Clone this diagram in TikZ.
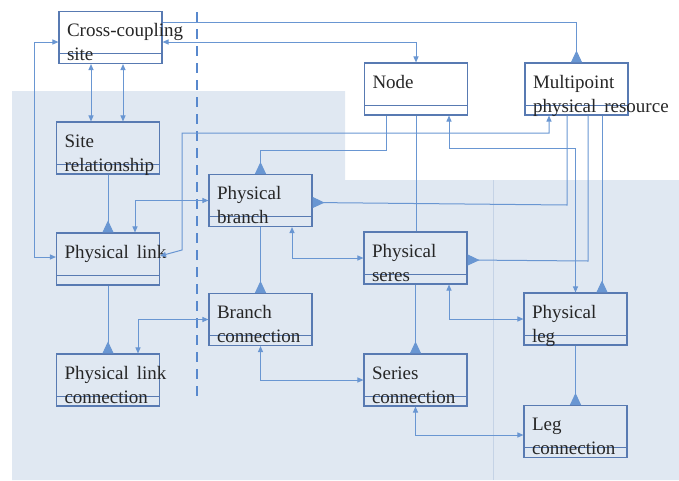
\documentclass[tikz,border=0pt]{standalone}
\usepackage{fontspec}
\setmainfont{Liberation Serif}
\usetikzlibrary{arrows.meta}

\definecolor{bgblue}{RGB}{224,232,242}
\definecolor{gridblue}{RGB}{197,211,230}
\definecolor{boxblue}{RGB}{88,122,178}
\definecolor{linkblue}{RGB}{105,150,210}
\definecolor{dashblue}{RGB}{88,136,205}
\hyphenpenalty=10000
\exhyphenpenalty=10000
\newcommand{\widesp}{\hspace{8pt}}

\begin{document}
\begin{tikzpicture}[x=1pt, y=-1pt,
    assoctip/.tip = {Triangle[length=6pt,width=5pt]},
    gentip/.tip = {Triangle[length=12pt,width=11pt,reversed]},
    cls/.style = {rectangle, draw=boxblue, line width=1.1pt,
                  text width=87pt, inner xsep=8pt, inner ysep=0pt,
                  text height=25pt, text depth=27pt, align=left,
                  font=\fontsize{19}{24}\selectfont, text=black!85,
                  path picture={\draw[boxblue, line width=0.9pt]
                    ([yshift=10pt]path picture bounding box.south west) --
                    ([yshift=10pt]path picture bounding box.south east);}},
    link/.style = {draw=linkblue, line width=1pt},
    assoc/.style = {link, assoctip-assoctip},
    gen/.style = {link, -gentip}]
  \useasboundingbox (0,0) rectangle (679,480);
  \fill[bgblue] (12,91) -- (345,91) -- (345,180) -- (679,180) -- (679,480) -- (12,480) -- cycle;
  \draw[gridblue, line width=0.8pt] (493,180) -- (493,480);

  \node (site)    [cls] at (110.5,37.5)  {\mbox{Cross-coupling}\\site};
  \node (siterel) [cls] at (108,148)     {Site\\relationship};
  \node (plink)   [cls] at (108,259)     {\mbox{Physical\widesp link}};
  \node (plconn)  [cls] at (108,380)     {\mbox{Physical\widesp link}\\connection};
  \node (pbranch) [cls] at (260.5,200.5) {Physical\\branch};
  \node (bconn)   [cls] at (260.5,319.5) {Branch\\connection};
  \node (node)    [cls] at (416,89)      {Node};
  \node (mpr)     [cls] at (576.5,89)    {Multipoint\\\mbox{physical\widesp resource}};
  \node (pseres)  [cls] at (415.5,258)   {Physical\\seres};
  \node (sconn)   [cls] at (415.5,380)   {Series\\connection};
  \node (pleg)    [cls] at (575.5,319)   {Physical\\leg};
  \node (lconn)   [cls] at (575.5,431.5) {Leg\\connection};

  \draw[dashblue, line width=2.6pt, dash pattern=on 10pt off 7pt] (197,12) -- (197,397);

  \draw[gen] ([yshift=15.5pt]site.east) -| (mpr.north);
  \draw[assoc] ([yshift=-4.5pt]site.east) -| (node.north);
  \draw[assoc] ([yshift=-4.5pt]site.west) -- ++(-24,0) |- ([yshift=2pt]plink.west);
  \draw[assoc] (site.south -| 91,0) -- (siterel.north -| 91,0);
  \draw[assoc] (site.south -| 123,0) -- (siterel.north -| 123,0);
  \draw[gen] (siterel.south) -- (plink.north);
  \draw[assoc] (plink.north -| 135,0) |- (pbranch.west);
  \draw[assoc] ([yshift=3pt]plink.east) -- (182,250) -- (182,133) -| (mpr.south -| 549,0);
  \draw[gen] (node.south -| 386,0) -- ++(0,35) -| (pbranch.north);
  \draw[link] (node.south) -- (node.south |- pseres.north);
  \draw[assoc] (node.south -| 449,0) -- ++(0,33) -| (pleg.north);
  \draw[gen] (mpr.south -| 567,0) -- (567,205) -- ([yshift=-2pt]pbranch.east);
  \draw[gen] (mpr.south -| 588,0) -- (588,261) -- ([yshift=-2pt]pseres.east);
  \draw[gen] (mpr.south -| 602,0) -- (pleg.north -| 602,0);

  \draw[gen] (plink.south) -- (plconn.north);
  \draw[gen] (pbranch.south) -- (bconn.north);
  \draw[gen] (pseres.south) -- (sconn.north);
  \draw[gen] (pleg.south) -- (lconn.north);

  \draw[assoc] (plconn.north -| 138,0) |- (bconn.west);
  \draw[assoc] (pbranch.south -| 292,0) |- (pseres.west);
  \draw[assoc] (bconn.south) |- (sconn.west);
  \draw[assoc] (pseres.south -| 449,0) |- (pleg.west);
  \draw[assoc] (sconn.south) |- ([yshift=-3.5pt]lconn.west);
\end{tikzpicture}
\end{document}
